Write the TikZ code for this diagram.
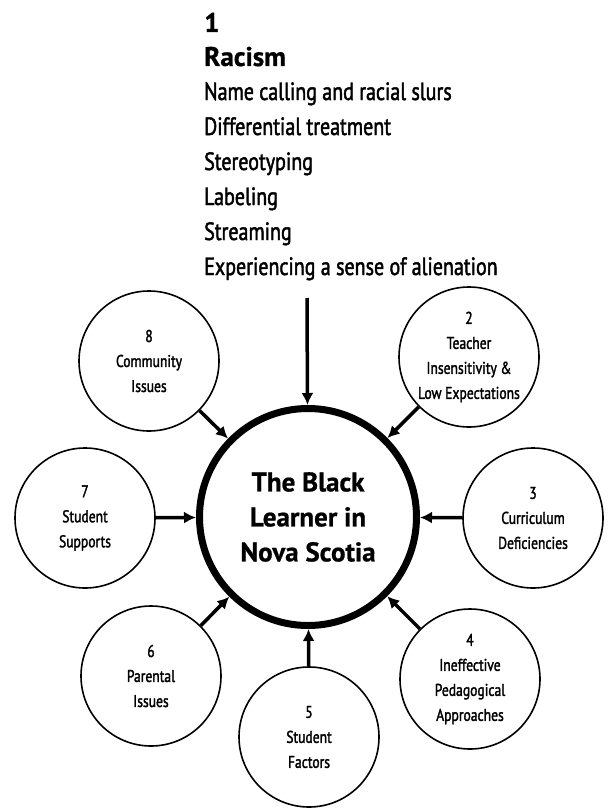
\documentclass[tikz,border=0pt]{standalone}
\usepackage{fontspec}
\setmainfont{PT Sans}
% narrow, slightly heavy face for the lists and circle labels
\newfontfamily\bodyfont{PT Sans}[FakeStretch=0.8, FakeBold=1.8]
% heavy face for headings
\newfontfamily\headfont{PT Sans Bold}[FakeBold=0.8]
\usetikzlibrary{arrows.meta}
\begin{document}
\begin{tikzpicture}[x=1pt,y=-1pt,
  listtext/.style={anchor=base west, inner sep=0pt, font=\bodyfont\fontsize{25}{30}\selectfont},
  headtext/.style={anchor=base west, inner sep=0pt, font=\headfont\fontsize{27}{30}\selectfont},
  hub/.style={circle, draw, line width=7pt, minimum size=217pt, inner sep=0pt,
    align=center, font=\headfont\fontsize{27}{35}\selectfont},
  factor/.style={circle, draw, line width=1.6pt, minimum size=140pt, inner sep=0pt,
    align=center, font=\bodyfont\fontsize{17}{25}\selectfont},
  feed/.style={line width=3.5pt, -{Latex[length=12pt,width=12pt]}}
]
\path[fill=white, use as bounding box] (0,0) rectangle (611,808);

% heading and list of the first factor
\node[headtext] (num) at (204,32) {1};
\node[headtext] (title) at (204,66) {Racism};
\node[listtext] (l1) at (204,100) {Name calling and racial slurs};
\node[listtext] (l2) at (204,135) {Differential treatment};
\node[listtext] (l3) at (204,170) {Stereotyping};
\node[listtext] (l4) at (204,205) {Labeling};
\node[listtext] (l5) at (204,240) {Streaming};
\node[listtext] (l6) at (204,275) {Experiencing a sense of alienation};
\coordinate (src) at (307,298);

% central circle
\node[hub] (main) at (308,517) {The Black\\Learner in\\Nova Scotia};

% surrounding factors
\node[factor] (f2) at (469,357) {2\\Teacher\\Insensitivity \&\\Low Expectations};
\node[factor] (f3) at (533,518) {3\\Curriculum\\Deficiencies};
\node[factor] (f4) at (470,679) {4\\Ineffective\\Pedagogical\\Approaches};
\node[factor] (f5) at (309,737) {5\\Student\\Factors};
\node[factor] (f6) at (151,676) {6\\Parental\\Issues};
\node[factor] (f7) at (85,518) {7\\Student\\Supports};
\node[factor] (f8) at (149,361) {8\\Community\\Issues};

% arrows into the centre
\draw[feed] (src) -- (main);
\foreach \f in {f2,f3,f4,f5,f6,f7,f8}
  \draw[feed] (\f) -- (main);
\end{tikzpicture}
\end{document}
